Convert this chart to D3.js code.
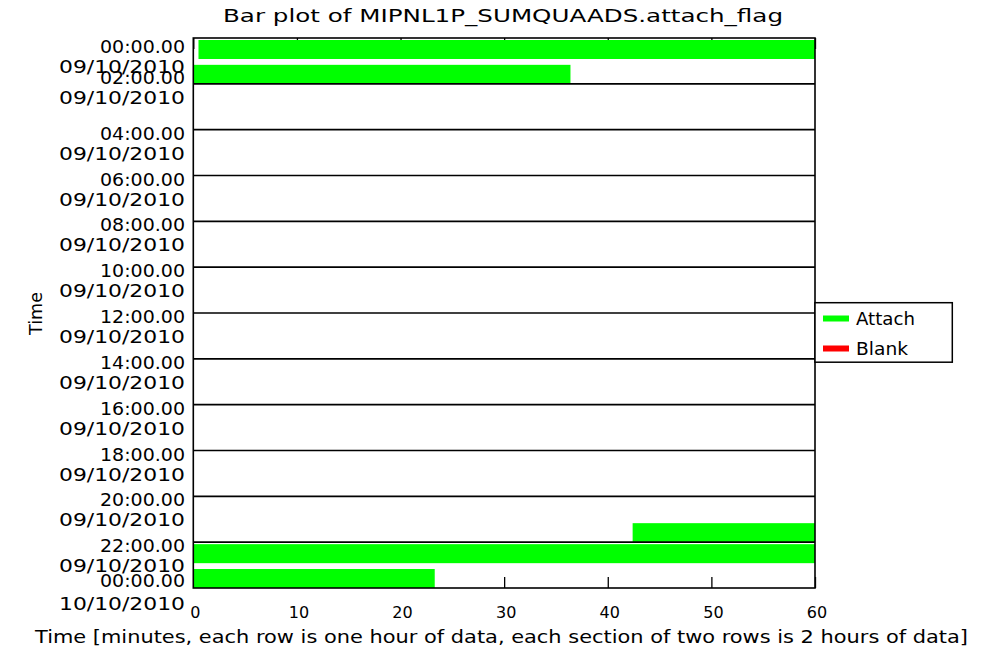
<!DOCTYPE html>
<html>
<head>
<meta charset="utf-8">
<script src="https://cdn.jsdelivr.net/npm/d3@7"></script>
<style>
  body { margin: 0; background: #fff; }
  svg { display: block; }
  text { font-family: "DejaVu Sans", sans-serif; fill: #000; }
</style>
</head>
<body>
<svg width="984" height="663"></svg>
<script>
// hours of the day shown as tick positions, one section = two rows = 2 hours
var tickHours = [0, 2, 4, 6, 8, 10, 12, 14, 16, 18, 20, 22, 24];
var timeLabels = ["00:00.00", "02:00.00", "04:00.00", "06:00.00", "08:00.00", "10:00.00",
    "12:00.00", "14:00.00", "16:00.00", "18:00.00", "20:00.00", "22:00.00", "00:00.00"];
var dateLabels = ["09/10/2010", "09/10/2010", "09/10/2010", "09/10/2010", "09/10/2010", "09/10/2010",
    "09/10/2010", "09/10/2010", "09/10/2010", "09/10/2010", "09/10/2010", "09/10/2010", "10/10/2010"];
var minuteTicks = [0, 10, 20, 30, 40, 50, 60];

// attach flag segments: row (hour), start minute, end minute
var attachRow = [0, 1, 21, 22, 23];
var attachFrom = [0.5, 0, 42.4, 0, 0];
var attachTo = [60, 36.4, 60, 60, 23.3];
// blank flag segments (none in this file)
var blankRow = [];
var blankFrom = [];
var blankTo = [];

var legendNames = ["Attach", "Blank"];
var legendColors = ["#00ff00", "#ff0000"];

var svg = d3.select('svg');

var plotLeft = 193.3, plotRight = 815, plotTop = 38, plotBottom = 588;

var x = d3.scaleLinear().domain([0, 60]).range([plotLeft, plotRight]);
var y = d3.scaleLinear().domain([0, 24]).range([plotTop, plotBottom]);

// ticks go under the bars
var bottomAxis = d3.axisBottom(x)
    .tickValues(minuteTicks)
    .tickSize(-11)
    .tickPadding(19);
var gb = svg.append('g')
    .attr('transform', 'translate(0,' + plotBottom + ')')
    .call(bottomAxis);
gb.select('.domain').remove();
gb.selectAll('.tick line').attr('stroke', '#000').attr('stroke-width', 1.3);
gb.selectAll('.tick text')
    .style('font-size', '16px')
    .style('font-family', '"DejaVu Sans", sans-serif')
    .attr('fill', '#000')
    .attr('dx', 1.5);

var gt = svg.append('g')
    .attr('transform', 'translate(0,' + plotTop + ')')
    .call(d3.axisTop(x).tickValues(minuteTicks).tickSize(-11).tickFormat(''));
gt.select('.domain').remove();
gt.selectAll('.tick line').attr('stroke', '#000').attr('stroke-width', 1.3);

// bars
function segs(rows, from, to) {
    return rows.map(function (r, i) { return {row: r, from: from[i], to: to[i]}; });
}
var rowH = y(1) - y(0);
var barH = 19;

function drawBars(data, color) {
    svg.append('g').selectAll('rect')
        .data(data)
        .enter()
        .append('rect')
        .attr('x', function (d) { return x(d.from); })
        .attr('width', function (d) { return x(d.to) - x(d.from); })
        .attr('y', function (d) { return d.row % 2 === 0 ? y(d.row) + 2 : y(d.row) + rowH - barH; })
        .attr('height', barH)
        .attr('fill', color);
}
drawBars(segs(attachRow, attachFrom, attachTo), legendColors[0]);
drawBars(segs(blankRow, blankFrom, blankTo), legendColors[1]);

// section lines every two hours
svg.append('g').selectAll('line')
    .data(tickHours.slice(1, -1))
    .enter()
    .append('line')
    .attr('x1', plotLeft).attr('x2', plotRight)
    .attr('y1', function (d) { return y(d); })
    .attr('y2', function (d) { return y(d); })
    .attr('stroke', '#000')
    .attr('stroke-width', 1.6);

svg.append('rect')
    .attr('x', plotLeft).attr('y', plotTop)
    .attr('width', plotRight - plotLeft).attr('height', plotBottom - plotTop)
    .attr('fill', 'none')
    .attr('stroke', '#000')
    .attr('stroke-width', 1.6);

// y tick labels, two lines each (time + date)
var timeShift = {0: 15, 2: 0, 24: -1};
var dateShift = {24: 23};
var yl = svg.append('g').attr('text-anchor', 'end');
tickHours.forEach(function (h, i) {
    var base = y(h) + (h in timeShift ? timeShift[h] : 10);
    yl.append('text')
        .attr('x', 185).attr('y', base)
        .attr('textLength', 85).attr('lengthAdjust', 'spacingAndGlyphs')
        .style('font-size', '17px')
        .text(timeLabels[i]);
    yl.append('text')
        .attr('x', 185).attr('y', base + (h in dateShift ? dateShift[h] : 20))
        .attr('textLength', 126).attr('lengthAdjust', 'spacingAndGlyphs')
        .style('font-size', '17px')
        .text(dateLabels[i]);
});

// title and axis titles
svg.append('text')
    .attr('x', 223).attr('y', 22)
    .attr('textLength', 560).attr('lengthAdjust', 'spacingAndGlyphs')
    .style('font-size', '18px')
    .text('Bar plot of MIPNL1P_SUMQUAADS.attach_flag');

svg.append('text')
    .attr('x', 35).attr('y', 643)
    .attr('textLength', 933).attr('lengthAdjust', 'spacingAndGlyphs')
    .style('font-size', '17px')
    .text('Time [minutes, each row is one hour of data, each section of two rows is 2 hours of data]');

svg.append('text')
    .attr('transform', 'translate(41.5,313.5) rotate(-90)')
    .attr('text-anchor', 'middle')
    .attr('textLength', 43).attr('lengthAdjust', 'spacingAndGlyphs')
    .style('font-size', '17px')
    .text('Time');

// legend
var lg = svg.append('g');
lg.append('rect')
    .attr('x', plotRight).attr('y', 302.7)
    .attr('width', 952.3 - plotRight).attr('height', 59.5)
    .attr('fill', '#fff')
    .attr('stroke', '#000')
    .attr('stroke-width', 1.5);
legendNames.forEach(function (name, i) {
    var cy = 318.5 + i * 30;
    lg.append('rect')
        .attr('x', 823).attr('y', cy - 3)
        .attr('width', 26).attr('height', 6)
        .attr('fill', legendColors[i]);
    lg.append('text')
        .attr('x', 856).attr('y', cy + 6.5)
        .attr('textLength', i === 0 ? 59 : 52).attr('lengthAdjust', 'spacingAndGlyphs')
        .style('font-size', '17px')
        .text(name);
});
</script>
</body>
</html>
